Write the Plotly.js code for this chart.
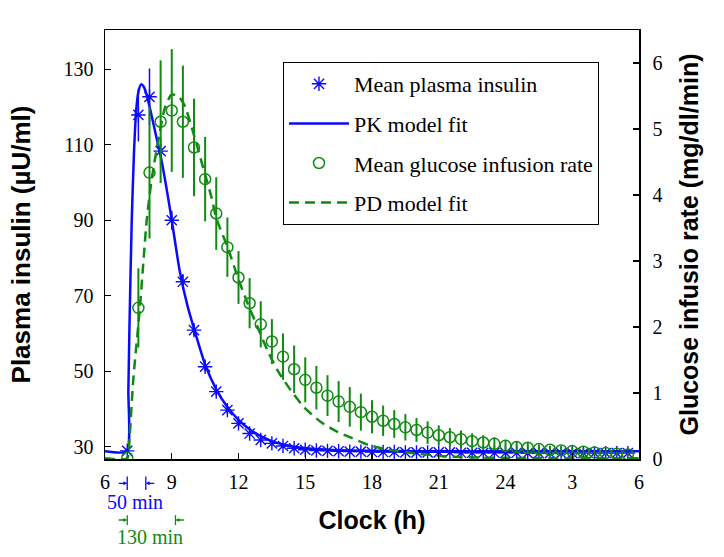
<!DOCTYPE html>
<html>
<head>
<meta charset="utf-8">
<script src="https://cdn.plot.ly/plotly-3.0.1.min.js"></script>
<style>html,body{margin:0;padding:0;background:#fff;}#chart{width:724px;height:557px;}</style>
</head>
<body>
<div id="chart"></div>
<script>
// ---- Observation times (clock hours, 7:00 -> 5:30 next day) ----
const obsHours = [7.0, 7.5, 8.0, 8.5, 9.0, 9.5, 10.0, 10.5, 11.0, 11.5, 12.0, 12.5, 13.0, 13.5, 14.0, 14.5,
  15.0, 15.5, 16.0, 16.5, 17.0, 17.5, 18.0, 18.5, 19.0, 19.5, 20.0, 20.5, 21.0, 21.5, 22.0, 22.5,
  23.0, 23.5, 24.0, 24.5, 25.0, 25.5, 26.0, 26.5, 27.0, 27.5, 28.0, 28.5, 29.0, 29.5];

// ---- Mean plasma insulin (µU/ml) and SD ----
const insulinMean = [28.9, 117.9, 122.7, 108.3, 90.0, 73.7, 60.9, 51.2, 44.6, 39.7, 36.2, 33.5, 31.8, 30.9, 30.2, 29.6,
  29.2, 29.0, 28.9, 28.8, 28.7, 28.7, 28.6, 28.6, 28.6, 28.5, 28.5, 28.5, 28.5, 28.5, 28.4, 28.4,
  28.4, 28.4, 28.4, 28.4, 28.3, 28.3, 28.3, 28.3, 28.3, 28.3, 28.3, 28.3, 28.3, 28.3];
const insulinSD = [0.5, 7.0, 7.5, 3.5, 2.5, 2.0, 1.5, 1.3, 1.1, 1.0, 0.9, 0.8, 0.7, 0.6, 0.6, 0.5,
  0.5, 0.5, 0.4, 0.4, 0.4, 0.4, 0.4, 0.4, 0.4, 0.4, 0.4, 0.4, 0.4, 0.4, 0.4, 0.4,
  0.4, 0.4, 0.4, 0.4, 0.4, 0.4, 0.4, 0.4, 0.4, 0.4, 0.4, 0.4, 0.4, 0.4];

// ---- Mean glucose infusion rate (mg/dl/min) and SD ----
const glucoseMean = [0.02, 2.29, 4.34, 5.11, 5.28, 5.11, 4.72, 4.24, 3.72, 3.21, 2.75, 2.36, 2.04, 1.78, 1.55, 1.36,
  1.20, 1.08, 0.96, 0.87, 0.79, 0.71, 0.64, 0.58, 0.53, 0.48, 0.44, 0.40, 0.36, 0.33, 0.30, 0.27,
  0.25, 0.23, 0.20, 0.18, 0.17, 0.15, 0.14, 0.13, 0.12, 0.11, 0.10, 0.09, 0.08, 0.07];
const glucoseSD = [0.02, 0.60, 1.00, 0.93, 0.93, 0.85, 0.74, 0.64, 0.55, 0.45, 0.40, 0.38, 0.35, 0.34, 0.35, 0.36,
  0.34, 0.33, 0.31, 0.31, 0.30, 0.28, 0.25, 0.23, 0.21, 0.20, 0.18, 0.17, 0.15, 0.14, 0.13, 0.12,
  0.11, 0.10, 0.09, 0.08, 0.08, 0.07, 0.06, 0.06, 0.05, 0.05, 0.04, 0.04, 0.03, 0.03];

// ---- PK model fit (insulin) ----
const pkHours = [6.0, 6.98, 7.05, 7.1, 7.2, 7.3, 7.4, 7.5, 7.62, 7.75, 7.87, 8.0, 8.25, 8.5, 8.75, 9.0, 9.36, 9.7,
  10.0, 10.5, 11.0, 11.5, 12.0, 12.5, 13.0, 13.5, 14.0, 14.5, 15.0, 16.0, 17.0, 18.5, 20.0, 30.0];
const pkFit = [28.8, 28.8, 45, 62, 89.5, 107.5, 119, 124, 126, 125.3, 123.2, 120.2, 113.6, 107, 99, 90, 76.5, 67.5,
  61.3, 51.8, 45.2, 40.5, 37.1, 34.6, 32.8, 31.5, 30.6, 30.0, 29.6, 29.2, 29.0, 28.9, 28.8, 28.8];

// ---- PD model fit (glucose infusion rate) ----
const pdHours = [6.0, 7.0, 7.1, 7.27, 7.57, 7.87, 8.09, 8.39, 8.69, 8.99, 9.29, 9.6, 9.9, 10.2, 10.49, 10.79, 11.0,
  11.52, 11.97, 12.42, 12.87, 13.31, 13.76, 14.35, 14.96, 15.7, 16.45, 17.0, 17.87, 18.6, 19.8, 21.3, 23.0, 30.0];
const pdFit = [0.01, 0.01, 0.3, 1.2, 2.3, 3.6, 4.22, 4.82, 5.32, 5.52, 5.5, 5.34, 5.02, 4.67, 4.32, 3.96, 3.65,
  3.2, 2.75, 2.35, 1.99, 1.64, 1.34, 1.04, 0.78, 0.56, 0.41, 0.33, 0.21, 0.15, 0.09, 0.04, 0.02, 0.01];

// ---- Axis ticks ----
const xTickVals = [6, 9, 12, 15, 18, 21, 24, 27, 30];
const xTickText = ['6', '9', '12', '15', '18', '21', '24', '3', '6'];
const yLeftTicks = [30, 50, 70, 90, 110, 130];
const yRightTicks = [0, 1, 2, 3, 4, 5, 6];

// ---- Timing annotations (dose at 7:00; tmax 50 min, 130 min) ----
const doseTime = 7.0;
const pkTmaxMin = 50;
const pdTmaxMin = 130;

const BLUE = '#0a0aff';
const GREEN = '#118a11';
const SERIF = 'Liberation Serif, Times New Roman, serif';
const SANS = 'Liberation Sans, Arial, sans-serif';

const traces = [
  {
    x: obsHours, y: insulinMean, type: 'scatter', mode: 'markers', name: 'Mean plasma insulin',
    legendgroup: 'g1', yaxis: 'y',
    marker: {symbol: 'asterisk-open', size: 12, color: BLUE, line: {color: BLUE, width: 1.4}},
    error_y: {type: 'data', array: insulinSD, visible: true, color: BLUE, thickness: 1.5, width: 0}
  },
  {
    x: pkHours, y: pkFit, type: 'scatter', mode: 'lines', name: 'PK model fit',
    legendgroup: 'g2', yaxis: 'y',
    line: {color: BLUE, width: 2.5, shape: 'spline', smoothing: 0.6}
  },
  {
    x: obsHours, y: glucoseMean, type: 'scatter', mode: 'markers', name: 'Mean glucose infusion rate',
    legendgroup: 'g3', yaxis: 'y2',
    marker: {symbol: 'circle-open', size: 11, color: GREEN, line: {color: GREEN, width: 1.5}},
    error_y: {type: 'data', array: glucoseSD, visible: true, color: GREEN, thickness: 2, width: 0}
  },
  {
    x: pdHours, y: pdFit, type: 'scatter', mode: 'lines', name: 'PD model fit',
    legendgroup: 'g4', yaxis: 'y2',
    line: {color: GREEN, width: 2.5, dash: '10px,6px', shape: 'spline', smoothing: 0.6}
  }
];

const pkEnd = doseTime + pkTmaxMin / 60;
const pdEnd = doseTime + pdTmaxMin / 60;

function bar(x, y0, y1, color) {
  return {type: 'line', xref: 'x', yref: 'paper', x0: x, x1: x, y0: y0, y1: y1,
          line: {color: color, width: 1.3}};
}
function arrow(x, y, dir, color) {
  return {x: x, y: y, xref: 'x', yref: 'paper', text: '', showarrow: true,
          ax: dir * 10, ay: 0, arrowhead: 2, arrowsize: 0.6, arrowwidth: 1.3,
          arrowcolor: color, standoff: 0};
}

const layout = {
  width: 724, height: 557,
  margin: {l: 105, r: 85, t: 30, b: 98},
  paper_bgcolor: '#fff', plot_bgcolor: '#fff',
  showlegend: true,
  legend: {
    x: 0.3333, y: 0.9254, xanchor: 'left', yanchor: 'top',
    bordercolor: '#000', borderwidth: 1, bgcolor: '#fff',
    font: {family: SERIF, size: 22, color: '#000'},
    traceorder: 'grouped', tracegroupgap: 8, itemwidth: 60, entrywidth: 268
  },
  xaxis: {
    range: [6, 30], tickvals: xTickVals, ticktext: xTickText,
    ticks: 'inside', ticklen: 6, tickwidth: 1.2, tickcolor: '#000',
    showline: true, linecolor: '#000', linewidth: 1.5, mirror: true,
    showgrid: false, zeroline: false,
    tickfont: {family: SERIF, size: 20, color: '#000'}, ticklabelstandoff: 4,
    title: {text: '<b>Clock (h)</b>', font: {family: SANS, size: 25, color: '#000'}, standoff: 20}
  },
  yaxis: {
    range: [26.75, 140.4], tickvals: yLeftTicks,
    ticks: 'inside', ticklen: 6, tickwidth: 1.2, tickcolor: '#000',
    showline: true, linecolor: '#000', linewidth: 1.5,
    showgrid: false, zeroline: false,
    tickfont: {family: SERIF, size: 20, color: '#000'}, ticklabelstandoff: 6,
    title: {text: '<b>Plasma insulin (µU/ml)</b>', font: {family: SANS, size: 26, color: '#000'}, standoff: 25}
  },
  yaxis2: {
    range: [0, 6.5], tickvals: yRightTicks, overlaying: 'y', side: 'right',
    ticks: 'inside', ticklen: 6, tickwidth: 1.2, tickcolor: '#000',
    showline: true, linecolor: '#000', linewidth: 1.5,
    showgrid: false, zeroline: false,
    tickfont: {family: SERIF, size: 20, color: '#000'}, ticklabelstandoff: 8,
    title: {text: '<b>Glucose infusio rate (mg/dl/min)</b>', font: {family: SANS, size: 25, color: '#000'}, standoff: 19}
  },
  shapes: [
    bar(doseTime, -0.041, -0.072, BLUE),
    bar(pkEnd, -0.041, -0.072, BLUE),
    bar(doseTime, -0.131, -0.154, GREEN),
    bar(pdEnd, -0.131, -0.154, GREEN)
  ],
  annotations: [
    arrow(doseTime, -0.0566, -1, BLUE),
    arrow(pkEnd, -0.0566, 1, BLUE),
    arrow(doseTime, -0.1422, -1, GREEN),
    arrow(pdEnd, -0.1422, 1, GREEN),
    {x: (doseTime + pkEnd) / 2 - 0.07, y: -0.0995, xref: 'x', yref: 'paper', yanchor: 'middle',
     text: pkTmaxMin + ' min', showarrow: false, font: {family: SERIF, size: 20, color: BLUE}},
    {x: doseTime + 1.0, y: -0.182, xref: 'x', yref: 'paper', yanchor: 'middle',
     text: pdTmaxMin + ' min', showarrow: false, font: {family: SERIF, size: 20, color: GREEN}}
  ]
};

Plotly.newPlot('chart', traces, layout, {displayModeBar: false, staticPlot: true});
</script>
</body>
</html>
